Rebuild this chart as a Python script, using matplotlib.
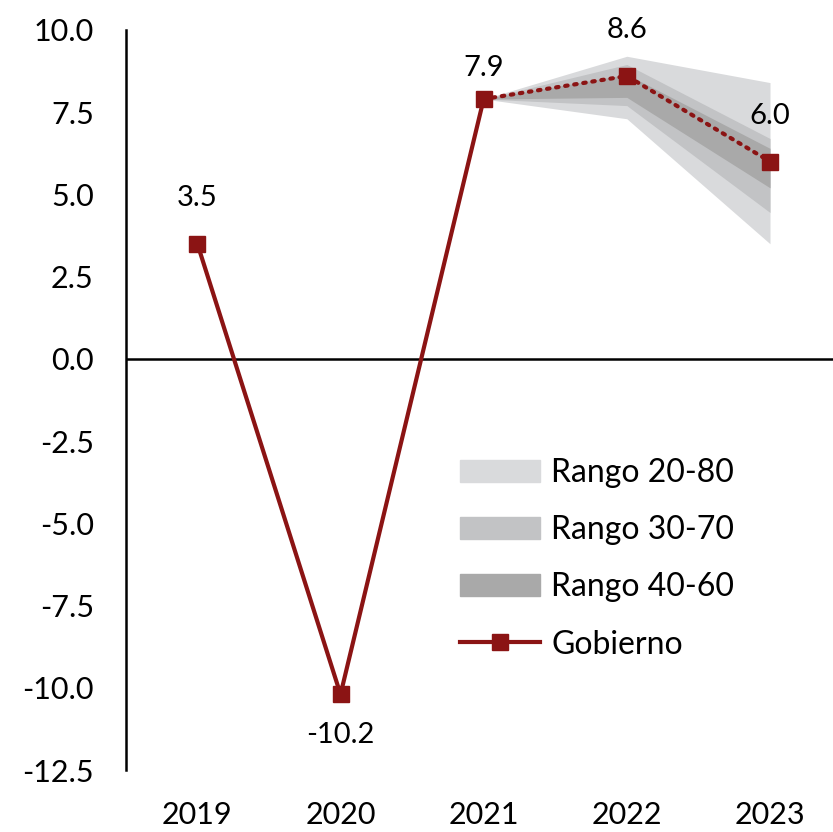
import numpy as np
import matplotlib
matplotlib.use("Agg")
import matplotlib.pyplot as plt
from matplotlib.patches import Patch
from matplotlib.lines import Line2D

plt.rcParams['font.family'] = ['Lato', 'DejaVu Sans']

# Datos
anios = [2019, 2020, 2021, 2022, 2023]
gobierno = [3.5, -10.2, 7.9, 8.6, 6.0]

anios_fan = [2021, 2022, 2023]
r2080_inf = [7.9, 7.3, 3.5]
r2080_sup = [7.9, 9.2, 8.4]
r3070_inf = [7.9, 7.7, 4.45]
r3070_sup = [7.9, 8.95, 6.7]
r4060_inf = [7.9, 7.95, 5.2]
r4060_sup = [7.9, 8.65, 6.4]

rojo = "#8b1414"
gris1 = "#d9dadc"
gris2 = "#c2c3c5"
gris3 = "#a9a9a9"

fig = plt.figure(figsize=(8.33, 8.32), dpi=100)
ax = fig.add_axes([0.151, 0.0745, 0.849, 0.8895])

# Abanico
ax.fill_between(anios_fan, r2080_inf, r2080_sup, color=gris1, lw=0, zorder=1)
ax.fill_between(anios_fan, r3070_inf, r3070_sup, color=gris2, lw=0, zorder=2)
ax.fill_between(anios_fan, r4060_inf, r4060_sup, color=gris3, lw=0, zorder=3)

# Serie del gobierno
ax.plot(anios[:3], gobierno[:3], color=rojo, lw=3, zorder=5)
ax.plot(anios[2:], gobierno[2:], color=rojo, lw=3, ls=(0, (0.6, 1.6)),
        dash_capstyle='round', zorder=5)
ax.plot(anios, gobierno, ls='none', marker='s', ms=11, color=rojo, zorder=6)

# Etiquetas de datos
for x, y in zip(anios, gobierno):
    if y < 0:
        dy = -29
    elif x == 2021:
        dy = 22
    else:
        dy = 33
    ax.annotate(f"{y:.1f}", (x, y), xytext=(0, dy), textcoords='offset points',
                ha='center', va='center', fontsize=21)

ax.axhline(0, color='black', lw=1.8, zorder=4)

ax.set_xlim(2018.5, 2023.44)
ax.set_ylim(-12.5, 10)
ax.set_yticks(np.arange(-12.5, 10.01, 2.5))
ax.set_yticklabels([f"{v:.1f}" for v in np.arange(-12.5, 10.01, 2.5)])
ax.set_xticks(anios)
ax.set_xticklabels([str(a) for a in anios])
ax.tick_params(axis='both', length=0, labelsize=22)
ax.tick_params(axis='y', pad=23)
ax.tick_params(axis='x', pad=22)
for s in ['top', 'right', 'bottom']:
    ax.spines[s].set_visible(False)
ax.spines['left'].set_linewidth(1.8)

handles = [Patch(color=gris1, label='Rango 20-80'),
           Patch(color=gris2, label='Rango 30-70'),
           Patch(color=gris3, label='Rango 40-60'),
           Line2D([0], [0], color=rojo, lw=3, marker='s', ms=11, label='Gobierno')]
ax.legend(handles=handles, loc='upper left', bbox_to_anchor=(0.518, 0.484),
          bbox_transform=fig.transFigure, frameon=False, fontsize=23,
          handlelength=2.5, handleheight=0.7, labelspacing=0.85, handletextpad=0.35)

fig.savefig("out.png", dpi=100)
